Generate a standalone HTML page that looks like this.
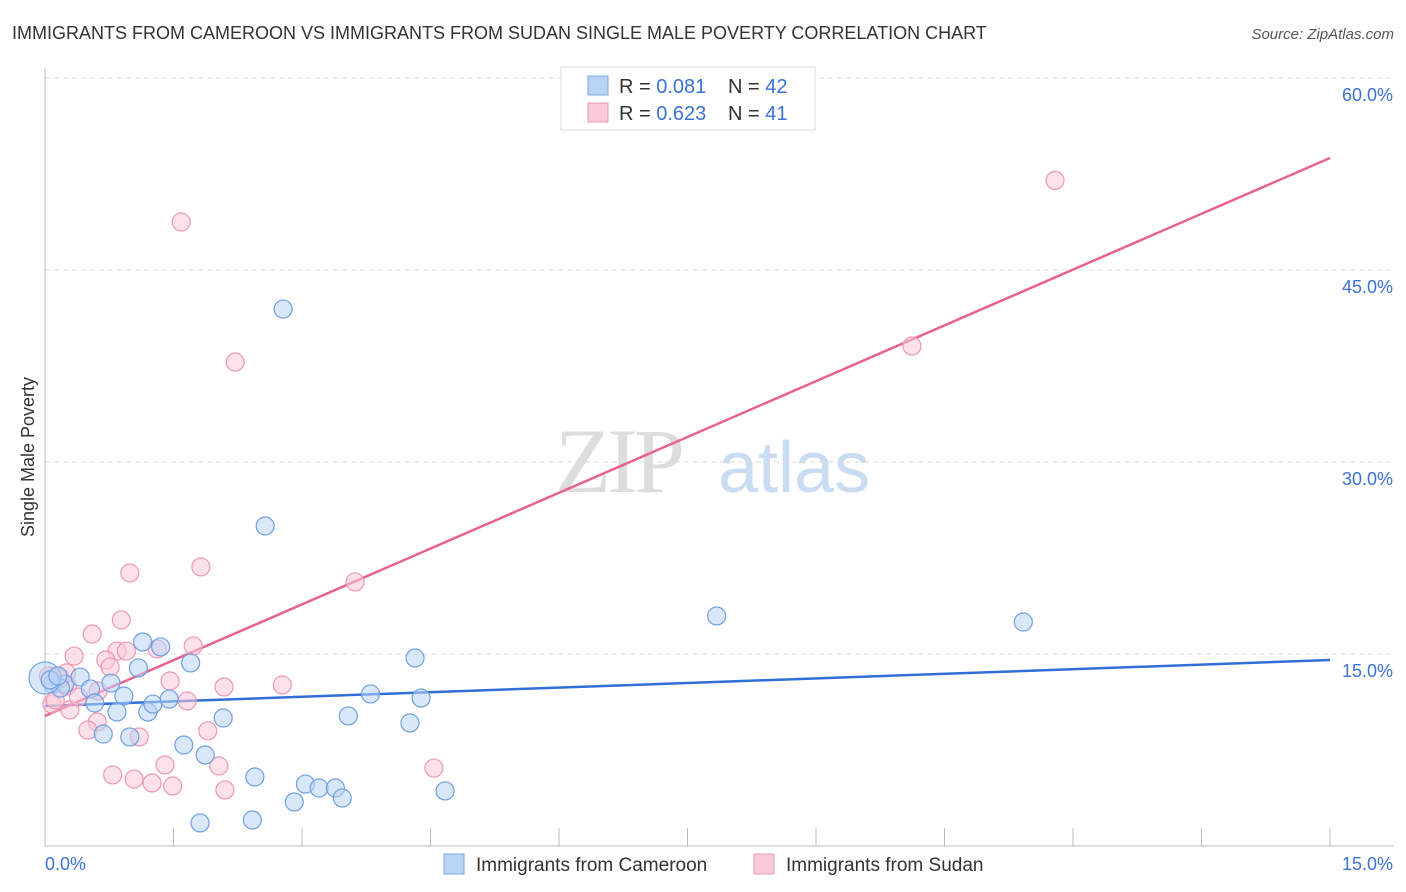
<!DOCTYPE html>
<html><head><meta charset="utf-8">
<style>
html,body{margin:0;padding:0;background:#fff;}
body{width:1406px;height:892px;overflow:hidden;font-family:"Liberation Sans",sans-serif;}
</style></head>
<body>
<svg id="chart" width="1406" height="892" xmlns="http://www.w3.org/2000/svg" style="position:absolute;left:0;top:0">
<text x="12" y="39" font-size="18" fill="#333">IMMIGRANTS FROM CAMEROON VS IMMIGRANTS FROM SUDAN SINGLE MALE POVERTY CORRELATION CHART</text>
<text x="1394" y="39" font-size="15" fill="#555" text-anchor="end" font-style="italic">Source: ZipAtlas.com</text>
<text transform="translate(34,457) rotate(-90)" font-size="18" fill="#333" text-anchor="middle">Single Male Poverty</text>
<text x="555" y="492" font-size="92" fill="#ddd" font-family="Liberation Serif" letter-spacing="-4">ZIP</text>
<text x="718" y="492" font-size="72" fill="#c9dcf2">atlas</text>
<g id="grid"></g><g id="axes"></g><g id="lines"></g><g id="pts"></g>
<g>
<rect x="561" y="67" width="254" height="63" fill="#fff" stroke="#ddd"/>
<rect x="588" y="76" width="20" height="19" fill="#b9d3f5" stroke="#7aa9e6"/>
<rect x="588" y="103" width="20" height="19" fill="#fbc9d8" stroke="#ee98b3"/>
<text x="619" y="93" font-size="20" fill="#333">R = <tspan fill="#3b72d6">0.081</tspan></text>
<text x="728" y="93" font-size="20" fill="#333">N = <tspan fill="#3b72d6">42</tspan></text>
<text x="619" y="120" font-size="20" fill="#333">R = <tspan fill="#3b72d6">0.623</tspan></text>
<text x="728" y="120" font-size="20" fill="#333">N = <tspan fill="#3b72d6"> 41</tspan></text>
</g>
<g>
<rect x="444" y="854" width="20" height="20" fill="#b9d3f5" stroke="#7aa9e6"/>
<text x="476" y="871" font-size="19" fill="#333">Immigrants from Cameroon</text>
<rect x="754" y="854" width="20" height="20" fill="#fbc9d8" stroke="#ee98b3"/>
<text x="786" y="871" font-size="19" fill="#333">Immigrants from Sudan</text>
</g>
</svg>
<script>
const yTicks=[15,30,45,60];
const yTickLabels=["15.0%","30.0%","45.0%","60.0%"];
const xTickLabels=["0.0%","15.0%"];
const cameroonX=[2.78,2.57,7.84,11.42,1.14,1.35,1.09,1.70,4.32,0.09,0.23,0.18,0.41,0.53,0.77,0.92,0.58,0.84,1.20,1.26,1.45,0.68,0.99,2.08,1.62,1.87,2.45,3.04,3.20,3.39,3.47,2.91,3.54,3.80,4.26,4.39,4.67,1.81,2.42,0.0,0.06,0.15];
const cameroonY=[41.95,25.0,17.97,17.5,15.94,15.55,13.91,14.3,14.69,12.66,12.66,12.34,13.2,12.27,12.73,11.72,11.17,10.47,10.47,11.09,11.48,8.75,8.52,10.0,7.89,7.11,5.39,4.84,4.53,4.53,3.75,3.44,10.16,11.88,9.61,11.56,4.3,1.8,2.03,13.13,12.97,13.28];
const sudanX=[1.59,11.79,2.22,10.12,3.62,0.99,1.82,0.89,0.55,0.34,0.84,0.95,0.71,0.76,1.73,1.31,1.46,2.09,2.77,1.66,0.62,0.26,0.08,0.29,0.61,0.50,1.90,1.10,0.79,1.04,1.25,1.40,1.49,2.03,2.10,4.54,0.18,0.12,0.04,0.39,0.25];
const sudanY=[48.75,52.0,37.81,39.06,20.63,21.33,21.8,17.66,16.56,14.84,15.23,15.23,14.53,13.98,15.63,15.39,12.89,12.42,12.58,11.33,12.11,12.5,11.09,10.63,9.69,9.06,9.0,8.52,5.55,5.23,4.92,6.33,4.69,6.25,4.38,6.09,13.13,11.41,13.28,11.64,13.52];
const trendX=[0,15];
const cameroonTrend=[10.94,14.53];
const sudanTrend=[10.16,53.75];
const NS="http://www.w3.org/2000/svg";
const sx=v=>45+v*(1285/15), sy=v=>846-v*12.8;
function mk(tag,attrs,parent){const e=document.createElementNS(NS,tag);for(const k in attrs)e.setAttribute(k,attrs[k]);document.getElementById(parent).appendChild(e);return e;}
yTicks.forEach((t,i)=>{
 const l=mk('line',{x1:45,x2:1394,y1:sy(t),y2:sy(t),stroke:'#ddd','stroke-dasharray':'5,4'},'grid');
 
 
 const tx=mk('text',{x:1393,y:sy(t)+23,'font-size':18,fill:'#3b72d6','text-anchor':'end'},'axes');
 tx.textContent=yTickLabels[i];
 
 
});
const ax=mk('line',{x1:45,x2:45,y1:68,y2:846,stroke:'#bbb'},'axes');


const bx=mk('line',{x1:45,x2:1394,y1:846,y2:846,stroke:'#bbb'},'axes');


for(let i=1;i<=10;i++){const v=i*1.5;const t=mk('line',{x1:sx(v),x2:sx(v),y1:828,y2:846,stroke:'#bbb'},'axes');
 
 }
const xl0=mk('text',{x:45,y:870,'font-size':18,fill:'#3b72d6'},'axes');xl0.textContent=xTickLabels[0];


const xl1=mk('text',{x:1393,y:870,'font-size':18,fill:'#3b72d6','text-anchor':'end'},'axes');xl1.textContent=xTickLabels[1];


function pts(xs,ys,fill,stroke,name){xs.forEach((x,i)=>{const big=(x===0);
 const c=mk('circle',{cx:sx(x),cy:sy(ys[i]),r:big?16:9,fill:fill,'fill-opacity':0.55,stroke:stroke,'stroke-width':1.2},'pts');
 
 });}
pts(sudanX,sudanY,'#fbc9d8','#ee98b3','sudan-point');
pts(cameroonX,cameroonY,'#b9d3f5','#6f9fe0','cameroon-point');
const l1=mk('line',{x1:sx(trendX[0]),y1:sy(cameroonTrend[0]),x2:sx(trendX[1]),y2:sy(cameroonTrend[1]),stroke:'#2f6fd6','stroke-width':2.5},'lines');


const l2=mk('line',{x1:sx(trendX[0]),y1:sy(sudanTrend[0]),x2:sx(trendX[1]),y2:sy(sudanTrend[1]),stroke:'#e8628f','stroke-width':2.5},'lines');


</script>
</body></html>
